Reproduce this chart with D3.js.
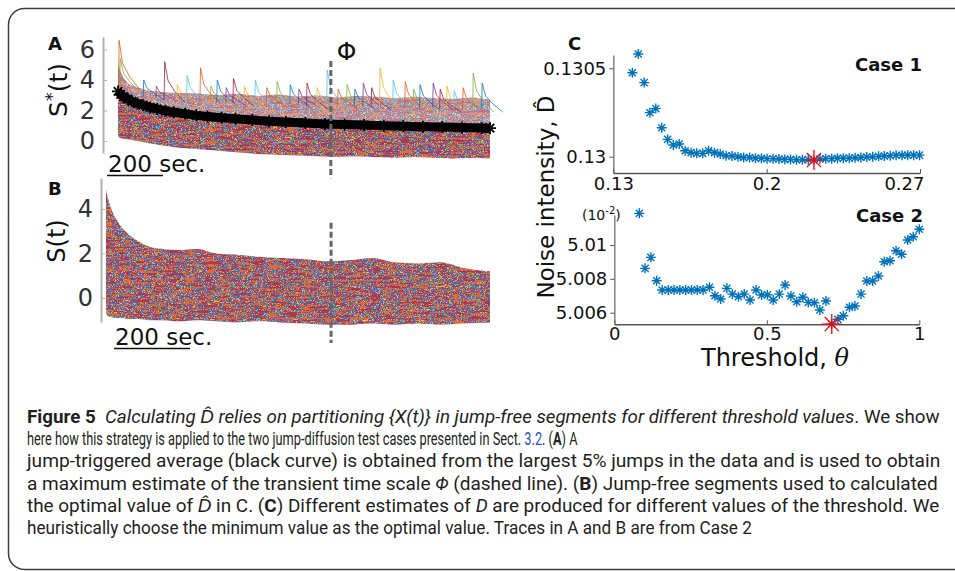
<!DOCTYPE html>
<html>
<head>
<meta charset="utf-8">
<script src="https://cdn.jsdelivr.net/npm/d3@7"></script>
<style>
  body { margin: 0; background: #fff; }
  svg { display: block; font-family: "DejaVu Sans", sans-serif; }
</style>
</head>
<body>
<svg id="fig" width="955" height="571"></svg>
<script>
// ---- Panel A: traces around jumps ----
const tBandA = [0, 8, 20, 40, 70, 110, 160, 220, 290, 360, 430, 500, 570, 640, 710, 780, 850, 920, 990, 1060, 1130, 1200, 1270, 1330];
const upperA = [5.0, 4.6, 4.1, 3.7, 3.5, 3.3, 3.2, 3.15, 3.1, 3.0, 3.1, 2.95, 3.05, 2.9, 3.0, 2.85, 2.95, 2.9, 2.8, 2.9, 2.8, 2.75, 2.85, 2.7];
const lowerA = [0.3, 0.2, 0.15, 0.1, 0.0, -0.15, -0.3, -0.45, -0.55, -0.65, -0.75, -0.85, -0.9, -0.95, -1.0, -1.05, -1.0, -1.05, -1.1, -1.05, -1.1, -1.15, -1.1, -1.15];
// jumps: [time, value before, peak]
const spikesA = [
  [2, 3.6, 6.6], [6, 3.4, 5.4], [90, 2.9, 4.0], [135, 2.8, 3.6], [165, 2.7, 5.2], [210, 2.7, 3.7],
  [245, 2.6, 4.3], [293, 2.6, 4.8], [330, 2.6, 3.6], [353, 2.5, 4.0], [385, 2.5, 3.5], [411, 2.5, 4.1],
  [450, 2.5, 3.6], [489, 2.4, 4.0], [530, 2.4, 3.5], [567, 2.4, 3.9], [614, 2.4, 3.7], [645, 2.4, 3.4],
  [674, 2.3, 3.8], [710, 2.3, 3.5], [746, 2.3, 4.65], [785, 2.3, 3.4], [817, 2.3, 3.7], [845, 2.3, 3.4],
  [875, 2.3, 3.8], [905, 2.2, 3.5], [935, 2.2, 4.8], [982, 2.2, 4.0], [1025, 2.2, 3.9], [1055, 2.2, 3.4],
  [1078, 2.2, 3.7], [1125, 2.2, 3.8], [1150, 2.1, 3.4], [1174, 2.1, 3.6], [1200, 2.1, 3.3], [1232, 2.1, 3.5],
  [1268, 2.1, 4.45], [1300, 2.1, 3.8]
];
// jump-triggered average (black curve)
const blackT = [0, 10, 20, 35, 50, 70, 90, 115, 140, 170, 200, 240, 280, 320, 370, 420, 480, 540, 600, 670, 740, 810, 880, 950, 1020, 1090, 1160, 1230, 1300, 1330];
const blackS = [3.25, 3.05, 2.9, 2.75, 2.6, 2.45, 2.35, 2.2, 2.1, 1.98, 1.88, 1.78, 1.68, 1.6, 1.52, 1.45, 1.37, 1.3, 1.24, 1.18, 1.12, 1.08, 1.04, 1.0, 0.97, 0.94, 0.91, 0.88, 0.85, 0.84];
const phiA = 761;
const ticksA = [0, 2, 4, 6];

// ---- Panel B: jump-free segments ----
const tBandB = [0, 5, 12, 25, 40, 60, 85, 115, 150, 190, 240, 290, 340, 400, 460, 520, 580, 640, 700, 760, 820, 880, 940, 1010];
const upperB = [4.85, 4.5, 4.1, 3.6, 3.2, 2.85, 2.55, 2.3, 2.2, 2.15, 2.2, 2.0, 1.95, 1.85, 1.8, 1.75, 1.65, 1.7, 1.8, 1.6, 1.55, 1.6, 1.35, 1.2];
const lowerB = [-0.7, -0.8, -0.85, -0.9, -0.9, -0.95, -0.95, -1.0, -1.0, -1.05, -1.0, -1.05, -1.1, -1.05, -1.1, -1.15, -1.2, -1.2, -1.15, -1.2, -1.15, -1.2, -1.15, -1.1];
const phiB = 592;
const ticksB = [0, 2, 4];

// ---- Panel C, Case 1 ----
const theta1 = [0.1387, 0.1414, 0.1441, 0.1467, 0.1494, 0.1521, 0.1548, 0.1574, 0.1601, 0.1628,
  0.1655, 0.1681, 0.1708, 0.1735, 0.1762, 0.1788, 0.1815, 0.1842, 0.1869, 0.1895,
  0.1922, 0.1949, 0.1976, 0.2002, 0.2029, 0.2056, 0.2083, 0.2109, 0.2136, 0.2163,
  0.2190, 0.2216, 0.2243, 0.2270, 0.2297, 0.2323, 0.2350, 0.2377, 0.2404, 0.2430,
  0.2457, 0.2484, 0.2511, 0.2537, 0.2564, 0.2591, 0.2618, 0.2644, 0.2671, 0.2698];
const D1 = [0.130475, 0.130581, 0.130419, 0.130249, 0.130272, 0.130164, 0.130098, 0.130066, 0.130072, 0.130034,
  0.130023, 0.130019, 0.130019, 0.130034, 0.130023, 0.130015, 0.130006, 0.130004, 0.130000, 0.129996,
  0.129996, 0.129992, 0.129991, 0.129989, 0.129989, 0.129987, 0.129985, 0.129985, 0.129983, 0.129983,
  0.129983, 0.129981, 0.129987, 0.129989, 0.129989, 0.129991, 0.129992, 0.129992, 0.129994, 0.129996,
  0.129998, 0.130000, 0.130002, 0.130004, 0.130006, 0.130008, 0.130008, 0.130009, 0.130009, 0.130009];
const xTicks1 = [0.13, 0.2, 0.27];
const xLabels1 = ["0.13", "0.2", "0.27"];
const yTicks1 = [0.13, 0.1305];
const yLabels1 = ["0.13", "0.1305"];

// ---- Panel C, Case 2 (values x 10^-2) ----
const theta2 = [0.082, 0.101, 0.120, 0.139, 0.157, 0.177, 0.196, 0.215, 0.234, 0.253,
  0.272, 0.291, 0.312, 0.330, 0.349, 0.369, 0.387, 0.407, 0.426, 0.445,
  0.465, 0.483, 0.502, 0.521, 0.541, 0.560, 0.579, 0.598, 0.618, 0.636,
  0.656, 0.674, 0.694, 0.713, 0.733, 0.751, 0.771, 0.789, 0.809, 0.828,
  0.847, 0.866, 0.885, 0.904, 0.924, 0.942, 0.962, 0.980, 1.0];
const D2 = [5.01187, 5.00862, 5.00927, 5.00789, 5.00734, 5.00734, 5.00734, 5.00734, 5.00734, 5.00734,
  5.00734, 5.00734, 5.00750, 5.00700, 5.00681, 5.00744, 5.00710, 5.00695, 5.00710, 5.00675,
  5.00734, 5.00705, 5.00706, 5.00675, 5.00710, 5.00764, 5.00699, 5.00665, 5.00691, 5.00661,
  5.00659, 5.00616, 5.00669, 5.00533, 5.00561, 5.00582, 5.00632, 5.00640, 5.00710, 5.00787,
  5.00787, 5.00817, 5.00901, 5.00907, 5.00966, 5.00945, 5.01030, 5.01049, 5.01093];
const xTicks2 = [0, 0.5, 1];
const xLabels2 = ["0", "0.5", "1"];
const yTicks2 = [5.006, 5.008, 5.01];
const yLabels2 = ["5.006", "5.008", "5.01"];

// ---- caption ----
const captionLines = [
  [["Figure 5", "b"], ["  ", ""], ["Calculating D\u0302 relies on partitioning {X(t)} in jump-free segments for different threshold values", "i"], [". We show", ""]],
  [["here how this strategy is applied to the two jump-diffusion test cases presented in Sect. ", ""], ["3.2", "link"], [". (", ""], ["A", "b"], [") A", ""]],
  [["jump-triggered average (black curve) is obtained from the largest 5% jumps in the data and is used to obtain", ""]],
  [["a maximum estimate of the transient time scale ", ""], ["\u03A6", "i"], [" (dashed line). (", ""], ["B", "b"], [") Jump-free segments used to calculated", ""]],
  [["the optimal value of ", ""], ["D\u0302", "i"], [" in C. (", ""], ["C", "b"], [") Different estimates of ", ""], ["D", "i"], [" are produced for different values of the threshold. We", ""]],
  [["heuristically choose the minimum value as the optimal value. Traces in A and B are from Case 2", ""]]
];
const captionEnds = [940, 578, 941, 938, 940, 752];

const palette = ["#0072BD", "#D95319", "#EDB120", "#7E2F8E", "#77AC30", "#4DBEEE", "#A2142F"];

const svg = d3.select("#fig");
const defs = svg.append("defs");

// multicoloured trace texture for the dense bands
const order = [1, 0, 6, 3, 1, 5, 0, 6, 3, 1, 4, 0, 6, 1, 3, 2, 0, 6, 1, 3, 5, 0, 1, 6];
const rgb = order.map(i => d3.rgb(palette[i]));
const filt = defs.append("filter").attr("id", "traces")
  .attr("color-interpolation-filters", "sRGB")
  .attr("x", 0).attr("y", 0).attr("width", 1).attr("height", 1);
filt.append("feTurbulence").attr("type", "fractalNoise")
  .attr("baseFrequency", "0.06 0.45").attr("numOctaves", 3).attr("seed", 11).attr("result", "n");
filt.append("feColorMatrix").attr("in", "n").attr("type", "matrix")
  .attr("values", "3.2 0 0 0 -1.1  3.2 0 0 0 -1.1  3.2 0 0 0 -1.1  0 0 0 0 1").attr("result", "g");
const ct = filt.append("feComponentTransfer").attr("in", "g").attr("result", "c");
ct.append("feFuncR").attr("type", "discrete").attr("tableValues", rgb.map(c => (c.r / 255).toFixed(3)).join(" "));
ct.append("feFuncG").attr("type", "discrete").attr("tableValues", rgb.map(c => (c.g / 255).toFixed(3)).join(" "));
ct.append("feFuncB").attr("type", "discrete").attr("tableValues", rgb.map(c => (c.b / 255).toFixed(3)).join(" "));
filt.append("feComposite").attr("in", "c").attr("in2", "SourceGraphic").attr("operator", "in");

function asterisk(r) {
  const a = r * 0.7071;
  return `M${-r},0H${r}M0,${-r}V${r}M${-a},${-a}L${a},${a}M${-a},${a}L${a},${-a}`;
}

// frame
svg.append("rect")
  .attr("x", 8.5).attr("y", 8.5).attr("width", 1000).attr("height", 561).attr("rx", 16)
  .attr("fill", "none").attr("stroke", "#3c3c3c").attr("stroke-width", 1.5);

function panelLetter(txt, x, y) {
  svg.append("text").attr("x", x).attr("y", y)
    .attr("font-size", 18).attr("font-weight", "bold").attr("fill", "#111").text(txt);
}

function styleTraceAxis(g) {
  g.select(".domain").attr("stroke", "#b0b0b0").attr("stroke-width", 2);
  g.selectAll(".tick line").attr("stroke", "#b0b0b0");
  g.selectAll(".tick text").attr("font-size", 24).attr("fill", "#333")
    .attr("font-family", "DejaVu Sans");
}

function scaleBar(x, y, len, yLine) {
  svg.append("text").attr("x", x + 1).attr("y", y).attr("font-size", 23).attr("fill", "#111").text("200 sec.");
  svg.append("line").attr("x1", x).attr("x2", x + len).attr("y1", yLine).attr("y2", yLine)
    .attr("stroke", "#111").attr("stroke-width", 1.5);
}

// ================= Panel A =================
const xA = d3.scaleLinear().domain([0, 1330]).range([118, 490]);
const yA = d3.scaleLinear().domain([-0.79, 6.82]).range([153, 37]);

svg.append("g").attr("transform", "translate(103,0)")
  .call(d3.axisLeft(yA).tickValues(ticksA).tickFormat(d3.format("d")).tickSize(-4).tickSizeOuter(0).tickPadding(8))
  .call(styleTraceAxis);

const bandA = d3.area()
  .x(i => xA(tBandA[i]))
  .y0(i => yA(lowerA[i]))
  .y1(i => yA(upperA[i]));
svg.append("path").attr("d", bandA(d3.range(tBandA.length)))
  .attr("fill", "#000").attr("filter", "url(#traces)").attr("opacity", 0.85);

// sparser region between the black curve and the upper edge of the band
const upperPts = d3.range(tBandA.length).map(i => [xA(tBandA[i]), yA(upperA[i])]);
const blackPts = d3.range(blackT.length).map(i => [xA(blackT[i]), yA(blackS[i])]).reverse();
svg.append("path").attr("d", "M" + upperPts.concat(blackPts).join("L") + "Z")
  .attr("fill", "#fff").attr("opacity", 0.3);

const spikeLine = d3.line().x(d => xA(d[0])).y(d => yA(d[1]));
svg.append("g").selectAll("path").data(spikesA).join("path")
  .attr("d", ([t, b, p]) => spikeLine([[t, b], [t + 2, p], [t + 14, b + 0.5 * (p - b)], [t + 40, b + 0.2 * (p - b)], [t + 75, b - 0.2]]))
  .attr("fill", "none")
  .attr("stroke", (d, i) => palette[(i * 3 + 1) % palette.length])
  .attr("stroke-width", 0.9)
  .attr("opacity", 0.85);

const blackLine = d3.line().x(i => xA(blackT[i])).y(i => yA(blackS[i]));
svg.append("path").attr("d", blackLine(d3.range(blackT.length)))
  .attr("fill", "none").attr("stroke", "#000").attr("stroke-width", 9).attr("stroke-linejoin", "round");
svg.append("g").selectAll("path").data(d3.range(blackT.length)).join("path")
  .attr("transform", i => `translate(${xA(blackT[i])},${yA(blackS[i])})`)
  .attr("d", asterisk(6)).attr("stroke", "#000").attr("stroke-width", 1.8).attr("fill", "none");

svg.append("line")
  .attr("x1", xA(phiA)).attr("x2", xA(phiA)).attr("y1", yA(5.25)).attr("y2", yA(-2.45))
  .attr("stroke", "#666").attr("stroke-width", 3).attr("stroke-dasharray", "6,3");
svg.append("text").attr("x", xA(phiA) + 6).attr("y", 60).attr("font-size", 25).attr("fill", "#111").text("\u03A6");

svg.append("text").attr("transform", "translate(67,90) rotate(-90)")
  .attr("text-anchor", "middle").attr("font-size", 25).attr("fill", "#111")
  .call(t => {
    t.append("tspan").text("S");
    t.append("tspan").attr("font-size", 18).attr("dy", -9).text("*");
    t.append("tspan").attr("dy", 9).text("(t)");
  });

scaleBar(107, 172, xA(200) - xA(0), 175.5);
panelLetter("A", 48, 50);

// ================= Panel B =================
const xB = d3.scaleLinear().domain([0, 1010]).range([106, 490]);
const yB = d3.scaleLinear().domain([-1.08, 5.39]).range([322, 178]);

svg.append("g").attr("transform", "translate(101,0)")
  .call(d3.axisLeft(yB).tickValues(ticksB).tickFormat(d3.format("d")).tickSize(-4).tickSizeOuter(0).tickPadding(8))
  .call(styleTraceAxis);

const bandB = d3.area()
  .x(i => xB(tBandB[i]))
  .y0(i => yB(lowerB[i]))
  .y1(i => yB(upperB[i]))
  .curve(d3.curveMonotoneX);
svg.append("path").attr("d", bandB(d3.range(tBandB.length)))
  .attr("fill", "#000").attr("filter", "url(#traces)").attr("opacity", 0.85);

svg.append("line")
  .attr("x1", xB(phiB)).attr("x2", xB(phiB)).attr("y1", yB(3.38)).attr("y2", yB(-2.02))
  .attr("stroke", "#666").attr("stroke-width", 3).attr("stroke-dasharray", "6,3");

svg.append("text").attr("transform", "translate(65,241) rotate(-90)")
  .attr("text-anchor", "middle").attr("font-size", 24).attr("fill", "#111").text("S(t)");

scaleBar(114, 345, xB(200) - xB(0), 348.5);
panelLetter("B", 48, 195);

// ================= Panel C =================
function styleCAxis(g, domainColor) {
  g.select(".domain").attr("stroke", domainColor).attr("stroke-width", 1.6);
  g.selectAll(".tick line").attr("stroke", "#555");
  g.selectAll(".tick text").attr("font-size", 18).attr("fill", "#111").attr("font-family", "DejaVu Sans");
}

// Case 1
const xC1 = d3.scaleLinear().domain([0.13, 0.27]).range([613.3, 920]);
const yC1 = d3.scaleLinear().domain([0.129908, 0.130575]).range([173, 55]);

svg.append("g").attr("transform", "translate(613.3,0)")
  .call(d3.axisLeft(yC1).tickValues(yTicks1).tickFormat((d, i) => yLabels1[i]).tickSize(4).tickSizeOuter(0).tickPadding(3))
  .call(g => styleCAxis(g, "#8a8a8a"));
const gx1 = svg.append("g").attr("transform", "translate(0,173)")
  .call(d3.axisBottom(xC1).tickValues(xTicks1).tickFormat((d, i) => xLabels1[i]).tickSize(-4).tickSizeOuter(0).tickPadding(4))
  .call(g => styleCAxis(g, "#555"));
gx1.selectAll(".tick text").filter((d, i) => i === xTicks1.length - 1).attr("text-anchor", "end").attr("dx", 4);

svg.append("g").selectAll("path").data(d3.range(theta1.length)).join("path")
  .attr("transform", i => `translate(${xC1(theta1[i])},${yC1(D1[i])})`)
  .attr("d", asterisk(5)).attr("stroke", "#0072BD").attr("stroke-width", 1.4).attr("fill", "none");
const min1 = d3.minIndex(D1);
svg.append("path").attr("transform", `translate(${xC1(theta1[min1])},${yC1(D1[min1])})`)
  .attr("d", asterisk(10)).attr("stroke", "#FF0000").attr("stroke-width", 1.3).attr("fill", "none");

svg.append("text").attr("x", 922).attr("y", 71).attr("text-anchor", "end")
  .attr("font-size", 18).attr("font-weight", "bold").attr("fill", "#111").text("Case 1");

// Case 2
const xC2 = d3.scaleLinear().domain([0, 1]).range([614.3, 919.3]);
const yC2 = d3.scaleLinear().domain([5.005315, 5.011773]).range([324.3, 215]);

svg.append("g").attr("transform", "translate(614.3,0)")
  .call(d3.axisLeft(yC2).tickValues(yTicks2).tickFormat((d, i) => yLabels2[i]).tickSize(4).tickSizeOuter(0).tickPadding(3))
  .call(g => styleCAxis(g, "#8a8a8a"));
svg.append("g").attr("transform", "translate(0,324.3)")
  .call(d3.axisBottom(xC2).tickValues(xTicks2).tickFormat((d, i) => xLabels2[i]).tickSize(-4).tickSizeOuter(0).tickPadding(3))
  .call(g => styleCAxis(g, "#555"));

svg.append("g").selectAll("path").data(d3.range(theta2.length)).join("path")
  .attr("transform", i => `translate(${xC2(theta2[i])},${yC2(D2[i])})`)
  .attr("d", asterisk(5)).attr("stroke", "#0072BD").attr("stroke-width", 1.4).attr("fill", "none");
const min2 = d3.minIndex(D2);
svg.append("path").attr("transform", `translate(${xC2(theta2[min2])},${yC2(D2[min2])})`)
  .attr("d", asterisk(10)).attr("stroke", "#FF0000").attr("stroke-width", 1.3).attr("fill", "none");

svg.append("text").attr("x", 923).attr("y", 222).attr("text-anchor", "end")
  .attr("font-size", 18).attr("font-weight", "bold").attr("fill", "#111").text("Case 2");

svg.append("text").attr("x", 582).attr("y", 220).attr("font-size", 14).attr("fill", "#111")
  .call(t => {
    t.append("tspan").text("(10");
    t.append("tspan").attr("font-size", 10).attr("dy", -6).text("-2");
    t.append("tspan").attr("dy", 6).text(")");
  });

svg.append("text").attr("transform", "translate(554,197) rotate(-90)")
  .attr("text-anchor", "middle").attr("font-size", 23).attr("fill", "#111")
  .text("Noise intensity, D\u0302");

svg.append("text").attr("x", 775).attr("y", 366).attr("text-anchor", "middle")
  .attr("font-size", 24).attr("fill", "#111")
  .call(t => {
    t.append("tspan").text("Threshold, ");
    t.append("tspan").attr("font-family", "DejaVu Serif").attr("font-style", "italic").text("\u03B8");
  });

panelLetter("C", 568, 50);

// ================= Caption =================
// each line is squeezed horizontally to the width it has in the figure
const cap = svg.append("g")
  .attr("font-family", "Roboto, 'Liberation Sans', sans-serif")
  .attr("font-size", 18).attr("fill", "#231f20");
captionLines.forEach((segs, li) => {
  const t = cap.append("text").style("white-space", "pre");
  segs.forEach(([s, st]) => {
    const sp = t.append("tspan").text(s);
    if (st === "b") sp.attr("font-weight", "bold");
    if (st === "i") sp.attr("font-style", "italic");
    if (st === "link") sp.attr("fill", "#2a4bd7");
  });
  const natural = t.node().getComputedTextLength();
  const sx = (captionEnds[li] - 27) / natural;
  t.attr("transform", `translate(27,${423 + li * 22.2}) scale(${sx.toFixed(4)},1)`);
});
</script>
</body>
</html>
